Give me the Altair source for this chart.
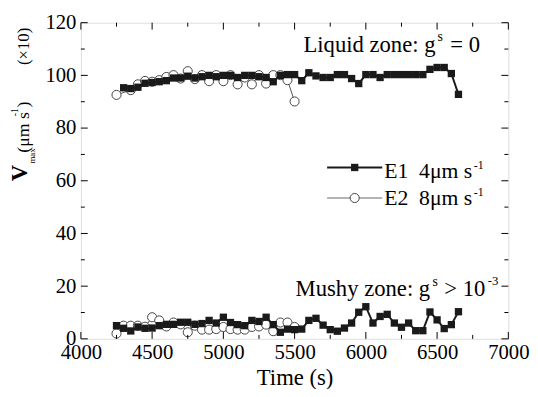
import altair as alt
import pandas as pd

FONT = "Liberation Serif"

# E1 (4 um/s) liquid zone
e1_up_t = [4300,4350,4400,4450,4500,4550,4600,4650,4700,4750,4800,4850,4900,4950,5000,5050,5100,5150,5200,5250,5300,5350,5400,5450,5500,5550,5600,5650,5700,5750,5800,5850,5900,5950,6000,6050,6100,6150,6200,6250,6300,6350,6400,6450,6500,6550,6600,6650]
e1_up_v = [95.3,95.0,95.5,97.0,97.3,97.6,98.0,99.0,99.0,99.7,99.0,99.5,100.0,99.5,100.0,100.0,99.2,100.0,100.0,99.5,99.2,97.6,100.0,100.3,100.3,98.0,101.0,99.8,99.2,99.2,100.3,100.3,98.8,96.9,100.3,100.3,99.2,100.3,100.3,100.3,100.3,100.3,100.3,102.3,103.0,103.0,100.7,92.8]
# E1 mushy zone
e1_lo_t = [4250,4300,4350,4400,4450,4500,4550,4600,4650,4700,4750,4800,4850,4900,4950,5000,5050,5100,5150,5200,5250,5300,5350,5400,5450,5500,5550,5600,5650,5700,5750,5800,5850,5900,5950,6000,6050,6100,6150,6200,6250,6300,6350,6400,6450,6500,6550,6600,6650]
e1_lo_v = [5.0,4.0,3.0,4.5,4.0,4.1,5.0,5.5,5.5,6.3,6.3,5.5,5.8,7.0,6.0,8.2,6.2,5.4,5.0,7.0,6.6,8.2,5.4,2.5,3.7,3.5,3.7,7.0,7.8,5.2,3.5,2.9,4.1,6.0,10.1,12.2,6.0,8.5,9.3,6.0,4.4,6.0,3.1,3.1,10.2,7.2,3.9,5.4,10.3]
# E2 (8 um/s) liquid zone
e2_up_t = [4250,4350,4400,4450,4500,4550,4600,4650,4700,4750,4800,4850,4900,4950,5000,5050,5100,5150,5200,5250,5300,5350,5400,5450,5500]
e2_up_v = [92.6,94.4,96.6,97.9,97.6,98.2,99.4,100.1,98.8,101.6,98.6,100.1,97.8,100.1,97.8,100.1,96.6,99.2,96.6,100.1,96.9,100.1,100.1,98.2,90.1]
# E2 mushy zone
e2_lo_t = [4250,4300,4350,4400,4450,4500,4550,4600,4650,4700,4750,4800,4850,4900,4950,5000,5050,5100,5150,5200,5250,5300,5350,5400,5450,5500]
e2_lo_v = [2.0,5.0,5.0,5.0,4.6,8.2,7.0,4.7,6.2,5.5,2.5,5.0,3.5,3.5,3.7,4.5,3.7,3.5,3.5,4.5,4.7,5.4,2.9,6.2,6.2,4.5]

x_major = [4000,4500,5000,5500,6000,6500,7000]
x_minor = [4250,4750,5250,5750,6250,6750]
y_major = [0,20,40,60,80,100,120]
y_minor = [10,30,50,70,90,110]

W, H = 434, 321

def frame(t, v, grp):
    return pd.DataFrame({"t": t, "v": v, "grp": grp})

e1 = pd.concat([frame(e1_up_t, e1_up_v, "up"), frame(e1_lo_t, e1_lo_v, "lo")])
e2 = pd.concat([frame(e2_up_t, e2_up_v, "up"), frame(e2_lo_t, e2_lo_v, "lo")])

xs = alt.Scale(domain=[4000, 7000], nice=False)
ys = alt.Scale(domain=[0, 120], nice=False)

X = alt.X("t:Q", scale=xs, axis=alt.Axis(values=x_major, format="d", domain=False, ticks=False,
          labelFont=FONT, labelFontSize=21, labelColor="black", labelPadding=3, labelFlush=False, grid=False,
          title="Time (s)", titleFont=FONT, titleFontSize=23, titleFontWeight="normal", titleColor="black", titlePadding=4))
Y = alt.Y("v:Q", scale=ys, axis=alt.Axis(values=y_major, domain=False, ticks=False,
          labelFont=FONT, labelFontSize=21, labelColor="black", labelPadding=5, labelFlush=False, grid=False, title=None))

e2_line = alt.Chart(e2).mark_line(color="#555555", strokeWidth=1).encode(x=X, y=Y, detail="grp:N")
e2_pts = alt.Chart(e2).mark_point(shape="circle", filled=True, fill="white", stroke="#444444",
                                  strokeWidth=1, size=85, opacity=1).encode(x="t:Q", y="v:Q")
e1_line = alt.Chart(e1).mark_line(color="#1a1a1a", strokeWidth=2).encode(x="t:Q", y="v:Q", detail="grp:N")
e1_pts = alt.Chart(e1).mark_point(shape="square", filled=True, color="#1a1a1a", size=55, opacity=1).encode(x="t:Q", y="v:Q")

# ticks (inward, all four sides)
tick_layers = []
for vals, L in [(x_major, 7), (x_minor, 4)]:
    d = pd.DataFrame({"t": vals})
    tick_layers.append(alt.Chart(d).mark_rule(color="black", strokeWidth=1).encode(
        x="t:Q", y=alt.value(H), y2=alt.value(H - L)))
    tick_layers.append(alt.Chart(d).mark_rule(color="black", strokeWidth=1).encode(
        x="t:Q", y=alt.value(0), y2=alt.value(L)))
for vals, L in [(y_major, 7), (y_minor, 4)]:
    d = pd.DataFrame({"v": vals})
    tick_layers.append(alt.Chart(d).mark_rule(color="black", strokeWidth=1).encode(
        y="v:Q", x=alt.value(0), x2=alt.value(L)))
    tick_layers.append(alt.Chart(d).mark_rule(color="black", strokeWidth=1).encode(
        y="v:Q", x=alt.value(W), x2=alt.value(W - L)))

def txt(s, x, y, size=18, angle=0, weight="normal", align="left", baseline="alphabetic"):
    kw = dict(text=s, font=FONT, fontSize=size, fontWeight=weight, color="black",
              align=align, baseline=baseline)
    if angle:
        kw["angle"] = angle
    return alt.Chart(pd.DataFrame({"a": [0]})).mark_text(**kw).encode(x=alt.value(x), y=alt.value(y))

NB = "\u00a0"
annots = [
    # y title, rotated
    txt("V", -55, 161, size=23, angle=270, weight="bold"),
    txt("max", -47, 143, size=9, angle=270),
    txt("(μm" + NB + "s", -53, 132, size=18, angle=270),
    txt("-1", -64, 95, size=10, angle=270),
    txt(")", -53, 86, size=18, angle=270),
    txt("(×10)", -53, 43, size=17, angle=270),
    # zone labels
    txt("Liquid zone: g", 226, 30, size=23),
    txt("s", 362, 19, size=14),
    txt("= 0", 375, 30, size=23),
    txt("Mushy zone: g", 218, 278, size=23),
    txt("s", 357, 267, size=14),
    txt(">" + NB + "10", 369, 278, size=23),
    txt("-3", 413, 266, size=13),
    # legend
    txt("E1" + NB + NB + "4μm" + NB + "s", 308, 158, size=22),
    txt("-1", 399, 149, size=12),
    txt("E2" + NB + NB + "8μm" + NB + "s", 308, 185, size=22),
    txt("-1", 399, 176, size=12),
]

one = pd.DataFrame({"a": [0]})
leg1_line = alt.Chart(one).mark_rule(color="#1a1a1a", strokeWidth=2).encode(
    x=alt.value(250), x2=alt.value(306), y=alt.value(147))
leg1_pt = alt.Chart(one).mark_point(shape="square", filled=True, color="#1a1a1a", size=55, opacity=1).encode(
    x=alt.value(278), y=alt.value(147))
leg2_line = alt.Chart(one).mark_rule(color="#666666", strokeWidth=1).encode(
    x=alt.value(250), x2=alt.value(306), y=alt.value(178))
leg2_pt = alt.Chart(one).mark_point(shape="circle", filled=True, fill="white", stroke="#444444", strokeWidth=1, size=85, opacity=1).encode(
    x=alt.value(278), y=alt.value(178))

chart = alt.layer(
    e2_line, e2_pts, e1_line, e1_pts, *tick_layers, *annots, leg1_line, leg1_pt, leg2_line, leg2_pt
).properties(
    width=W, height=H,
    autosize=alt.AutoSizeParams(type="none"),
    padding={"left": 74, "top": 12, "right": 22, "bottom": 48},
).configure_view(stroke="black", strokeWidth=1.5).configure(background="white")

chart.save("out.html", embed_options={"renderer": "svg", "actions": False})
